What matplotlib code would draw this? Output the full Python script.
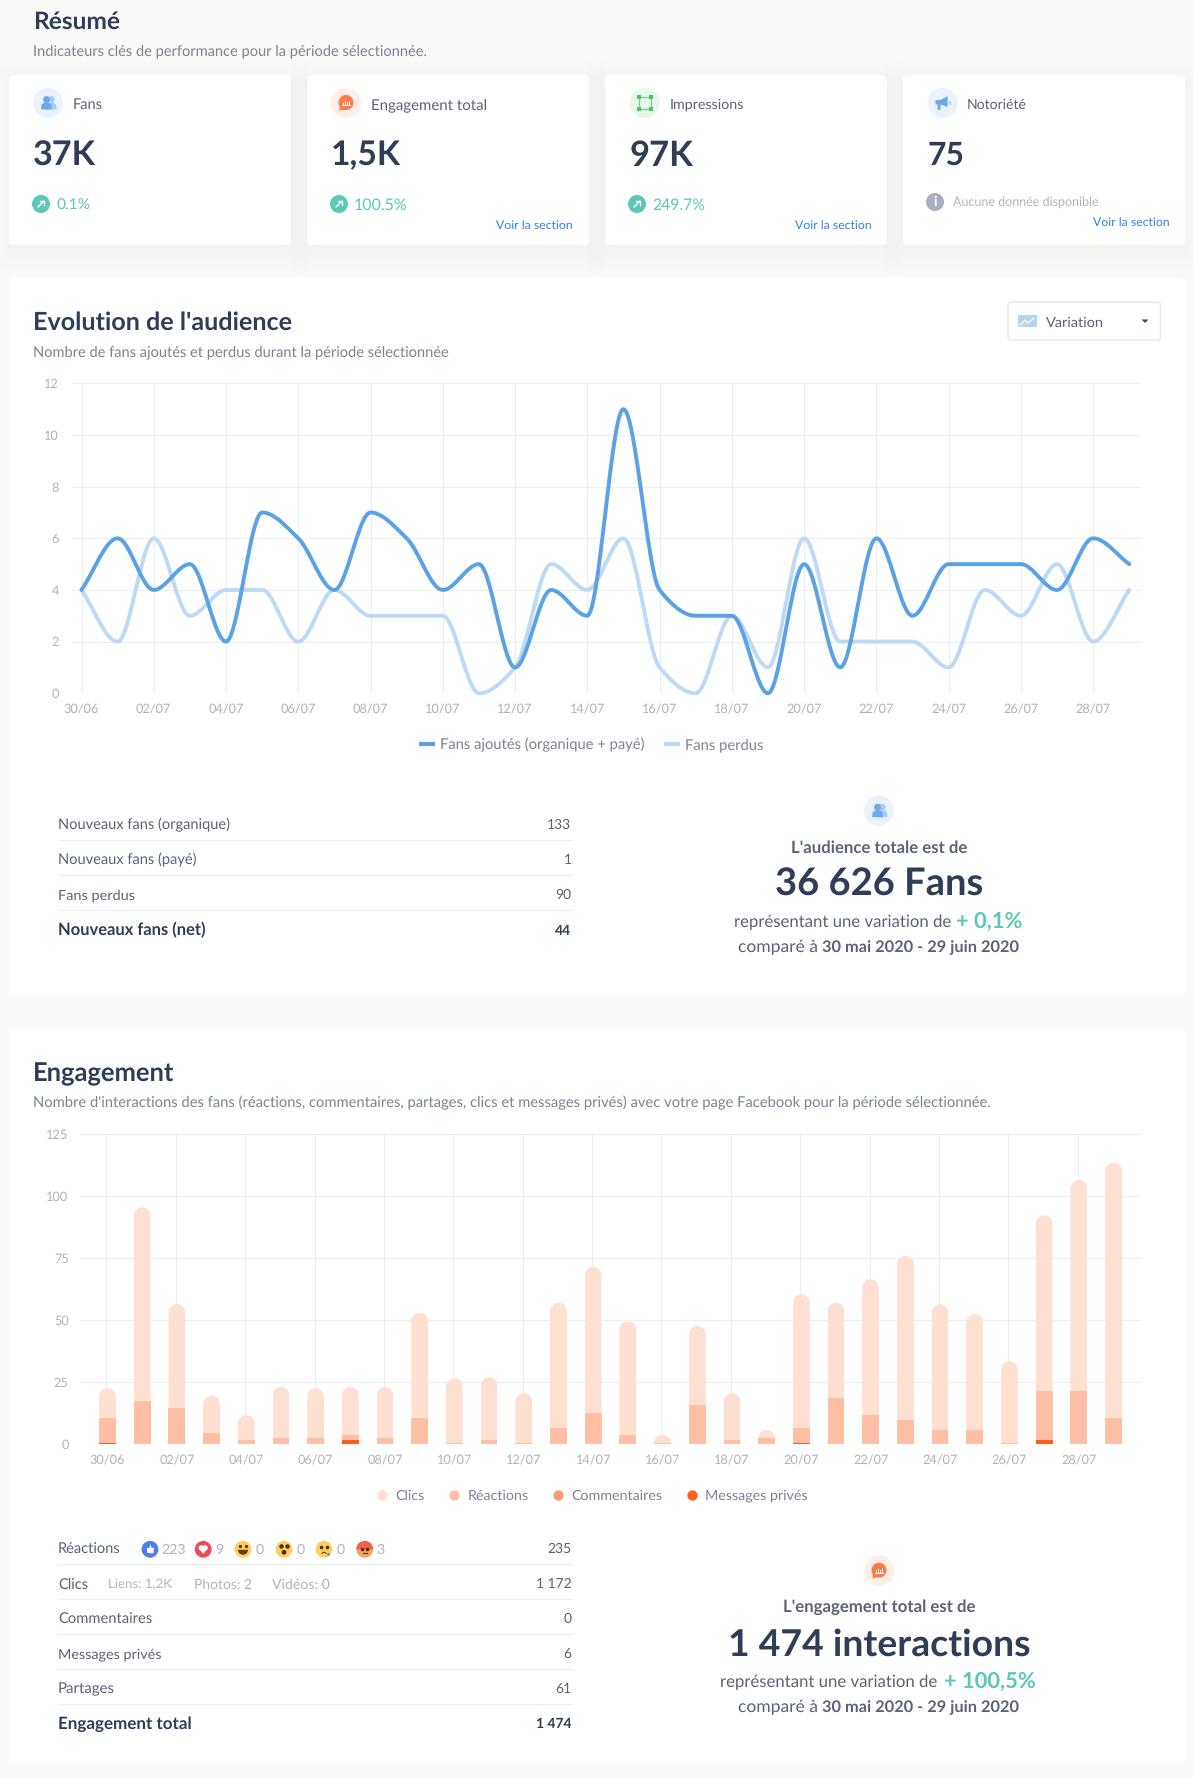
import numpy as np
import matplotlib
matplotlib.use("Agg")
import matplotlib.pyplot as plt
from matplotlib.patches import FancyBboxPatch, Circle, Rectangle, Polygon, Wedge
from matplotlib.path import Path
from matplotlib.lines import Line2D

FONT = "Lato"
plt.rcParams["font.family"] = [FONT, "DejaVu Sans"]
plt.rcParams["text.hinting"] = "none"

# ---------- data ----------
days = ["30/06"] + [f"{d:02d}/07" for d in range(1, 30)]
fans_added = [4, 6, 4, 5, 2, 7, 6, 4, 7, 6, 4, 5, 1, 4, 3, 11, 4, 3, 3, 0, 5, 1, 6, 3, 5, 5, 5, 4, 6, 5]
fans_lost = [4, 2, 6, 3, 4, 4, 2, 4, 3, 3, 3, 0, 1, 5, 4, 6, 1, 0, 3, 1, 6, 2, 2, 2, 1, 4, 3, 5, 2, 4]
clics = [11.9, 78.1, 42, 15, 10, 20.6, 20.1, 19.4, 20.6, 42.4, 26.1, 25.4, 20.1, 50.5, 59, 45.9, 3.2, 31.9,
         18.9, 3.2, 53.9, 38.4, 54.8, 66.3, 50.8, 46.8, 33, 70.9, 85.1, 102.9]
reactions = [10.2, 17.4, 14.5, 4.4, 1.6, 2.4, 2.4, 2, 2.4, 10.6, 0.4, 1.6, 0.4, 6.5, 12.5, 3.6, 0.4, 15.7,
             1.6, 2.4, 6.1, 18.6, 11.7, 9.7, 5.6, 5.6, 0.4, 19.8, 21.4, 10.6]
commentaires = [0] * 30
messages = [0.4, 0, 0, 0, 0, 0, 0, 1.6, 0, 0, 0, 0, 0, 0, 0, 0, 0, 0, 0, 0, 0.4, 0, 0, 0, 0, 0, 0, 1.6, 0, 0]

summary_labels = ["Fans", "Engagement total", "Impressions", "Notoriété"]
summary_values = ["37K", "1,5K", "97K", "75"]
summary_changes = ["0.1%", "100.5%", "249.7%", None]
audience_rows = [("Nouveaux fans (organique)", "133"), ("Nouveaux fans (payé)", "1"),
                 ("Fans perdus", "90"), ("Nouveaux fans (net)", "44")]
engagement_rows = [("Réactions", "235"), ("Clics", "1 172"), ("Commentaires", "0"),
                   ("Messages privés", "6"), ("Partages", "61"), ("Engagement total", "1 474")]
reaction_counts = ["223", "9", "0", "0", "0", "3"]

W, H = 1193, 1778
BG = "#FAFAF8"; DARK = "#2F3D57"; MID = "#5B6275"; SUB = "#7C8293"; TICK = "#AEB3BD"; GRID = "#ECEEF0"
TEAL = "#5CC8B5"; LINK = "#2F80F5"; GREYT = "#AEB4BF"
BLUE = "#5AA2E5"; LBLUE = "#BDD9F5"
C_CLIC = "#FEE0D3"; C_REAC = "#FFBFA4"; C_COM = "#FF9B70"; C_MSG = "#FF5E1F"

fig = plt.figure(figsize=(W / 100, H / 100), dpi=100, facecolor=BG)
ov = fig.add_axes([0, 0, 1, 1], zorder=0)
ov.set_xlim(0, W); ov.set_ylim(H, 0); ov.axis("off")
renderer = fig.canvas.get_renderer()


def fit(s, w, weight="normal"):
    # measure with the renderer that will draw the text, so widths agree
    probe = ov.text(0, 0, s, fontsize=50, fontweight=weight)
    width = probe.get_window_extent(renderer).width
    probe.remove()
    return 50 * w / width


def T(x, y, s, w=None, size=10, color=MID, weight="normal", ha="left"):
    if w is not None:
        size = fit(s, w, weight)
    # y is the visual centre of the line; the baseline sits a fixed share of the size below it
    ov.text(x - 0.5, y + 1.0 + 0.27 * size / 0.72, s, fontsize=size, color=color, fontweight=weight, ha=ha, va="baseline")


def card(x0, y0, x1, y1, shadow=True):
    if shadow:
        for i in range(1, 8):
            e = i * 3
            ov.add_patch(FancyBboxPatch((x0 - e + 2, y0 - e + 8), x1 - x0 + 2 * e - 4, y1 - y0 + 2 * e,
                                        boxstyle="round,pad=0,rounding_size=8", fc="#000000", ec="none", alpha=0.0035))
    ov.add_patch(FancyBboxPatch((x0, y0), x1 - x0, y1 - y0, boxstyle="round,pad=0,rounding_size=5",
                                fc="white", ec="none"))


def people(cx, cy, r=15, col="#6FA8E8", bg="#EAF2FC"):
    ov.add_patch(Circle((cx, cy), r, fc=bg, ec="none"))
    for dx, c in ((3.2, "#A9CBF0"), (-1.5, col)):
        ov.add_patch(Circle((cx + dx, cy - 3.5), 3.4, fc=c, ec="none"))
        ov.add_patch(Polygon([(cx + dx - 5.5, cy + 6.5), (cx + dx - 4.8, cy + 1.5), (cx + dx - 2, cy - 0.5),
                              (cx + dx + 2, cy - 0.5), (cx + dx + 4.8, cy + 1.5), (cx + dx + 5.5, cy + 6.5)],
                             fc=c, ec="none"))


def bubble(cx, cy, r=15):
    ov.add_patch(Circle((cx, cy), r, fc="#FFEFE8", ec="none"))
    ov.add_patch(Circle((cx, cy - 0.5), 7.5, fc="#FF7A45", ec="none"))
    ov.add_patch(Polygon([(cx - 6, cy + 3), (cx - 6.5, cy + 8), (cx - 1, cy + 6)], fc="#FF7A45", ec="none"))
    for dx, hh in ((-3, 2.5), (-1, 4), (1, 3), (3, 4.5)):
        ov.add_patch(Rectangle((cx + dx - 0.5, cy + 2 - hh), 1, hh, fc="white", ec="none"))
    ov.add_patch(Rectangle((cx - 4.5, cy + 2), 9, 0.9, fc="white", ec="none"))


def impressions(cx, cy, r=15):
    ov.add_patch(Circle((cx, cy), r, fc="#E8F7EC", ec="none"))
    ov.add_patch(Rectangle((cx - 6, cy - 6), 12, 12, fc="none", ec="#7FD08F", lw=1))
    for dx in (-6, 6):
        for dy in (-6, 6):
            ov.add_patch(Rectangle((cx + dx - 2, cy + dy - 2), 4, 4, fc="#55BF6B", ec="none"))


def megaphone(cx, cy, r=15):
    ov.add_patch(Circle((cx, cy), r, fc="#EAF2FC", ec="none"))
    ov.add_patch(Polygon([(cx - 7, cy - 3), (cx - 2, cy - 3), (cx + 5, cy - 7), (cx + 5, cy + 4),
                          (cx - 2, cy + 1.5), (cx - 2, cy + 7), (cx - 5, cy + 7), (cx - 5, cy + 1.5), (cx - 7, cy + 1.5)],
                         fc="#6FA8E8", ec="none"))
    ov.add_patch(Rectangle((cx + 6, cy - 2.5), 2, 4, fc="#A9CBF0", ec="none"))


def trend(cx, cy, r=9):
    ov.add_patch(Circle((cx, cy), r, fc=TEAL, ec="none"))
    ov.plot([cx - 3, cx + 3], [cy + 3, cy - 3], color="white", lw=1, solid_capstyle="round")
    ov.plot([cx - 1, cx + 3, cx + 3], [cy - 3, cy - 3, cy + 1], color="white", lw=1)


# ---------- panels ----------
T(33.5, 21, "Résumé", w=87, color=DARK, weight="bold")
T(33.5, 50, "Indicateurs clés de performance pour la période sélectionnée.", w=395, color=SUB)

card_x = [(9, 291), (307.5, 589), (605, 887), (903, 1185)]
for a, b in card_x:
    card(a, 75, b, 245)
card(9, 277, 1185, 996, shadow=False)
card(9, 1028, 1185, 1764, shadow=False)

icon_x = [48, 346, 644.7, 942.6]
label_x = [73, 371.4, 669.7, 967.3]
label_w = [30, 116, 74.6, 60]
value_x = [33.5, 331, 630, 927.7]
value_w = [63, 70, 64, 37]
chg_ix = [41, 339, 637]
chg_x = [57, 354.6, 653]
chg_w = [34, 54, 53]
people(icon_x[0], 103); bubble(icon_x[1], 103); impressions(icon_x[2], 103); megaphone(icon_x[3], 103)
for i in range(4):
    T(label_x[i], 104, summary_labels[i], w=label_w[i], color=MID)
    T(value_x[i], 155.5, summary_values[i], w=value_w[i], color=DARK, weight="bold")
    if summary_changes[i]:
        trend(chg_ix[i], 204)
        T(chg_x[i], 204.5, summary_changes[i], w=chg_w[i], color=TEAL)
ov.add_patch(Circle((935, 202), 9, fc="#AAB0BC", ec="none"))
ov.text(935, 202, "i", color="white", fontsize=10, fontweight="bold", ha="center", va="center")
T(953.5, 201.5, "Aucune donnée disponible", w=146, color=GREYT)
for xr, yy in ((573.5, 224.5), (872, 224.5), (1170, 221.5)):
    T(xr, yy, "Voir la section", size=fit("Voir la section", 77), color=LINK, ha="right")

T(33.5, 322, "Evolution de l'audience", w=259, color=DARK, weight="bold")
T(33.5, 351, "Nombre de fans ajoutés et perdus durant la période sélectionnée", w=416, color=SUB)
ov.add_patch(FancyBboxPatch((1008, 302), 152.5, 38, boxstyle="round,pad=0,rounding_size=3", fc="white",
                            ec="#E6E8EB", lw=1))
ov.add_patch(Rectangle((1018, 315), 18.5, 12, fc="#B5D3F3", ec="none"))
ov.plot([1020, 1025, 1028, 1034], [325, 320, 323, 318], color="white", lw=0.9)
T(1046, 321.8, "Variation", size=fit("Variation", 58), color=MID)
ov.add_patch(Polygon([(1141.5, 319.5), (1148.5, 319.5), (1145, 323)], fc="#3A4560", ec="none"))


# ---------- line chart ----------
def monotone(y, n=24):
    """Monotone cubic (Fritsch-Carlson) drawing of the series, passing through every value."""
    y = np.asarray(y, float)
    x = np.arange(len(y))
    d = np.diff(y)
    m = np.zeros(len(y))
    m[0], m[-1] = d[0], d[-1]
    for k in range(1, len(y) - 1):
        m[k] = 0 if d[k - 1] * d[k] <= 0 else 2 * d[k - 1] * d[k] / (d[k - 1] + d[k])
    xs, ys = [], []
    for k in range(len(y) - 1):
        t = np.linspace(0, 1, n, endpoint=False)
        h00 = 2 * t**3 - 3 * t**2 + 1; h10 = t**3 - 2 * t**2 + t
        h01 = -2 * t**3 + 3 * t**2; h11 = t**3 - t**2
        xs.append(x[k] + t)
        ys.append(h00 * y[k] + h10 * m[k] + h01 * y[k + 1] + h11 * m[k + 1])
    return np.r_[np.concatenate(xs), x[-1]], np.r_[np.concatenate(ys), y[-1]]


def place(x0, y0, x1, y1):
    return fig.add_axes([x0 / W, 1 - y1 / H, (x1 - x0) / W, (y1 - y0) / H], zorder=1, facecolor="none")


def style(ax):
    for s in ax.spines.values():
        s.set_visible(False)
    ax.tick_params(length=0, labelcolor=TICK, labelsize=9.2)
    ax.set_axisbelow(True)
    ax.grid(axis="y", color=GRID, lw=0.8)


a1 = place(72, 383.3, 1141.4, 693.3)
style(a1)
step = 36.13
a1.set_xlim((72 - 81.5) / step, (1141.4 - 81.5) / step)
a1.set_ylim(0, 12)
a1.set_yticks(range(0, 13, 2))
a1.set_xticks(range(0, 30, 2)); a1.set_xticklabels(days[::2])
a1.grid(axis="x", color=GRID, lw=0.8)
a1.tick_params(axis="y", pad=9.5)
a1.tick_params(axis="x", pad=7.5)
xs, ys = monotone(fans_lost)
a1.plot(xs, ys, color=LBLUE, lw=2.8, clip_on=False, solid_capstyle="round", label="Fans perdus")
xs, ys = monotone(fans_added)
a1.plot(xs, ys, color=BLUE, lw=2.8, clip_on=False, solid_capstyle="round", label="Fans ajoutés (organique + payé)")
lab1 = "Fans ajoutés (organique + payé)"
f1 = fit(lab1, 205)
px = 0.72 / f1
a1.legend(handles=[Line2D([], [], color=BLUE, lw=3, solid_capstyle="butt"),
                   Line2D([], [], color=LBLUE, lw=3, solid_capstyle="butt")],
          labels=[lab1, "Fans perdus"], loc="center", bbox_to_anchor=(591, 744.8), bbox_transform=ov.transData,
          ncol=2, frameon=False, fontsize=f1, labelcolor=SUB, borderpad=0, borderaxespad=0,
          handlelength=16 * px, handletextpad=5 * px, columnspacing=20 * px)

# ---------- audience table ----------
rows_y = [824.3, 859.3, 894.3, 930]
wid = [172, 138.5, 77, 148]
for i, (lab, val) in enumerate(audience_rows):
    bold = i == 3
    T(58.5, rows_y[i], lab, w=wid[i], color=DARK if bold else MID, weight="bold" if bold else "normal")
    T(572, rows_y[i], val, size=10.0, color=DARK if bold else MID, weight="bold" if bold else "normal", ha="right")
for yy in (840.3, 875.3, 910.3):
    ov.plot([58.5, 572], [yy, yy], color=GRID, lw=0.8)

people(879, 810.7)
T(879.5, 847, "L'audience totale est de", w=176, color=MID, weight="bold", ha="center")
T(879.5, 884, "36 626 Fans", w=208.5, color=DARK, weight="bold", ha="center")
T(734.4, 921.7, "représentant une variation de", w=217.6, color=MID)
T(957, 921, "+ 0,1%", w=66.6, color=TEAL, weight="bold")
T(738, 946.5, "comparé à", w=80, color=MID)
T(822.6, 946.5, "30 mai 2020 - 29 juin 2020", w=197, color=MID, weight="bold")

T(33.5, 1073, "Engagement", w=141.5, color=DARK, weight="bold")
T(33.5, 1102, "Nombre d'interactions des fans (réactions, commentaires, partages, clics et messages privés) "
              "avec votre page Facebook pour la période sélectionnée.", w=956.6, color=SUB)

# ---------- bar chart ----------
a2 = place(80.4, 1134.3, 1141.4, 1444)
style(a2)
st2 = 34.69
a2.set_xlim((80.4 - 107.5) / st2, (1141.4 - 107.5) / st2)
a2.set_ylim(0, 125)
a2.set_yticks(range(0, 126, 25))
a2.set_xticks(range(0, 30, 2)); a2.set_xticklabels(days[::2])
for d in range(0, 30, 2):
    a2.axvline(d - 0.03, color=GRID, lw=0.8, zorder=0)
a2.tick_params(axis="y", pad=8.5)
a2.tick_params(axis="x", pad=7.5)
x = np.arange(30)
bw = 16.8 / st2
m = np.array(messages, float); c = np.array(commentaires, float)
r = np.array(reactions, float); k = np.array(clics, float)
a2.bar(x, m, bw, color=C_MSG, zorder=3)
a2.bar(x, c, bw, bottom=m, color=C_COM, zorder=3)
a2.bar(x, r, bw, bottom=m + c, color=C_REAC, zorder=3)
tops = a2.bar(x, k, bw, bottom=m + c + r, color=C_CLIC, zorder=3)
unit_px = (1444 - 1134.3) / 125
for rect in tops:
    x0, x1 = rect.get_x(), rect.get_x() + rect.get_width()
    y0, y1 = rect.get_y(), rect.get_y() + rect.get_height()
    rad = min(8.4, (y1 - y0) * unit_px)
    ry = rad / unit_px; rx = rad / st2; q = 0.5523
    verts = [(x0, y0), (x0, y1 - ry), (x0, y1 - ry + q * ry), (x0 + rx - q * rx, y1), (x0 + rx, y1),
             (x1 - rx, y1), (x1 - rx + q * rx, y1), (x1, y1 - ry + q * ry), (x1, y1 - ry), (x1, y0), (x0, y0)]
    codes = [Path.MOVETO, Path.LINETO, Path.CURVE4, Path.CURVE4, Path.CURVE4, Path.LINETO,
             Path.CURVE4, Path.CURVE4, Path.CURVE4, Path.LINETO, Path.CLOSEPOLY]
    rect.set_clip_path(Path(verts, codes), a2.transData)
labs2 = ["Clics", "Réactions", "Commentaires", "Messages privés"]
f2 = fit("Messages privés", 103)
px = 0.72 / f2
a2.legend(handles=[Line2D([], [], ls="none", marker="o", ms=7.4, mec="none", color=col)
                   for col in (C_CLIC, C_REAC, C_COM, C_MSG)],
          labels=labs2, loc="center", bbox_to_anchor=(592.5, 1496), bbox_transform=ov.transData, ncol=4,
          frameon=False, fontsize=f2, labelcolor=SUB, borderpad=0, borderaxespad=0,
          handlelength=10 * px, handletextpad=8.7 * px, columnspacing=24 * px)

# ---------- engagement table ----------
rows2_y = [1549, 1584, 1618.5, 1653.5, 1688.5, 1723.7]
wid2 = [63, 30, 94, 104, 57, 134]
for i, (lab, val) in enumerate(engagement_rows):
    bold = i == 5
    T(58.3, rows2_y[i], lab, w=wid2[i], color=DARK if bold else MID, weight="bold" if bold else "normal")
    T(572, rows2_y[i] - (0.8 if i < 2 else 0), val, size=10.0, color=DARK if bold else MID,
      weight="bold" if bold else "normal", ha="right")
for yy in (1564.3, 1599.3, 1634.3, 1669.3, 1704.3):
    ov.plot([58.3, 572], [yy, yy], color=GRID, lw=0.8)

em_x = [150, 203.2, 243, 284, 324, 364.7]
em_c = ["#4C7DF0", "#EE4B5A", "#FFCF5C", "#FFCF5C", "#FFCF5C", "#F6A25A"]
cnt_x = [161.9, 215.5, 256, 296.6, 336.8, 377]
for i, ex in enumerate(em_x):
    ov.add_patch(Circle((ex, 1549.3), 8.4, fc=em_c[i], ec="none"))
    T(cnt_x[i], 1549.3, reaction_counts[i], size=10.2, color=GREYT)
ey = 1549.3
ov.add_patch(Rectangle((em_x[0] - 3.5, ey - 1.5), 2, 5.5, fc="white", ec="none"))
ov.add_patch(Polygon([(em_x[0] - 1, ey - 1), (em_x[0] + 0.5, ey - 5), (em_x[0] + 1.5, ey - 1.5), (em_x[0] + 4, ey - 1.5),
                      (em_x[0] + 3.5, ey + 4), (em_x[0] - 1, ey + 4)], fc="white", ec="none"))
ov.add_patch(Wedge((em_x[1] - 2, ey - 1.5), 2.6, 0, 360, fc="white", ec="none"))
ov.add_patch(Wedge((em_x[1] + 2, ey - 1.5), 2.6, 0, 360, fc="white", ec="none"))
ov.add_patch(Polygon([(em_x[1] - 4.4, ey - 0.6), (em_x[1] + 4.4, ey - 0.6), (em_x[1], ey + 4.6)], fc="white", ec="none"))
ov.add_patch(Wedge((em_x[2], ey + 0.5), 5, 0, 180, fc="#6B3A1E", ec="none"))
for dx in (-3, 3):
    ov.plot([em_x[2] + dx], [ey - 3], "o", ms=1.4, color="#5A3A1E")
    ov.plot([em_x[3] + dx], [ey - 3], "o", ms=2.2, color="#4A2F14")
    ov.plot([em_x[4] + dx], [ey - 2], "o", ms=1.6, color="#4A2F14")
    ov.plot([em_x[5] + dx * 0.9], [ey - 0.5], "o", ms=1.5, color="#4A2F14")
ov.add_patch(Circle((em_x[3], ey + 3), 2.4, fc="#4A2F14", ec="none"))
ov.plot([em_x[4] - 2, em_x[4], em_x[4] + 2], [ey + 4, ey + 2.8, ey + 4], color="#4A2F14", lw=0.7)
ov.add_patch(Circle((em_x[4] + 4.5, ey + 5), 1.5, fc="#5AA2E5", ec="none"))
ov.add_patch(Wedge((em_x[5], ey), 8.4, 180, 360, fc="#F0604A", ec="none"))
ov.plot([em_x[5] - 2, em_x[5] + 2], [ey + 4, ey + 4], color="#4A2F14", lw=0.8)

T(109, 1584, "Liens: 1,2K", w=64, color=GREYT)
T(194, 1584, "Photos: 2", w=58, color=GREYT)
T(272, 1584, "Vidéos: 0", w=58, color=GREYT)

bubble(879, 1570.7)
T(879.5, 1606.5, "L'engagement total est de", w=193, color=MID, weight="bold", ha="center")
T(879.5, 1645, "1 474 interactions", w=303, color=DARK, weight="bold", ha="center")
T(721, 1681.7, "représentant une variation de", w=217.6, color=MID)
T(944, 1681, "+ 100,5%", w=92, color=TEAL, weight="bold")
T(738.8, 1706.5, "comparé à", w=80, color=MID)
T(822.6, 1706.5, "30 mai 2020 - 29 juin 2020", w=197, color=MID, weight="bold")

fig.savefig("out.png", dpi=100, facecolor=BG)
